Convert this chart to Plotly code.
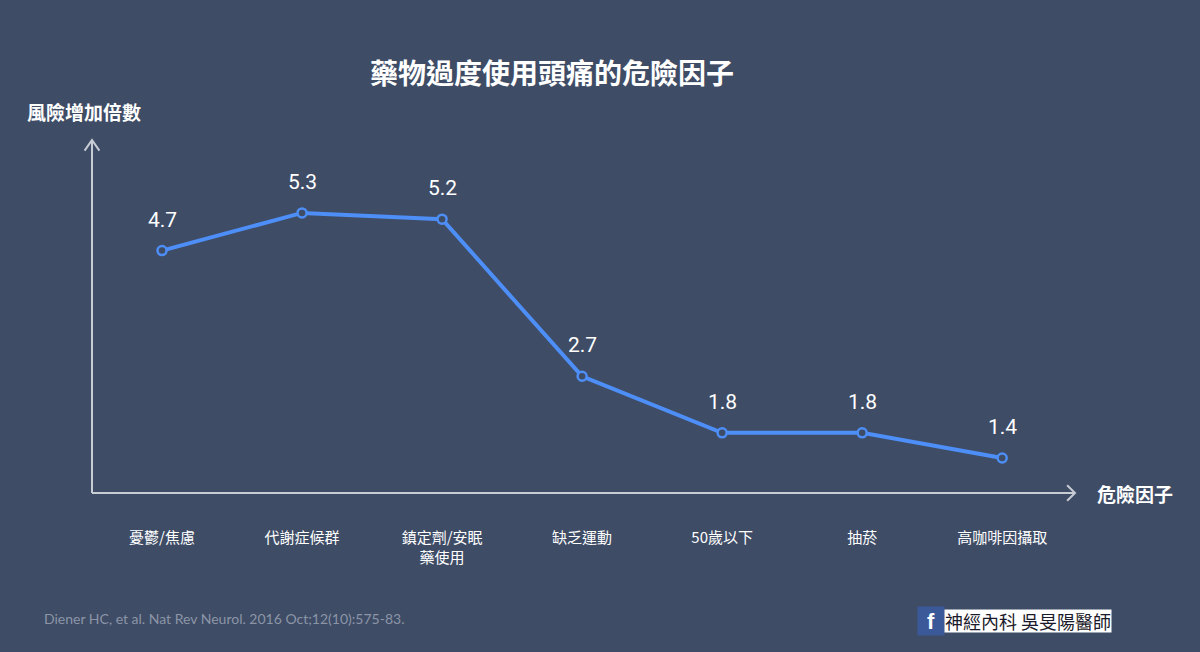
import plotly.graph_objects as go

categories = ['憂鬱/焦慮', '代謝症候群', '鎮定劑/安眠<br>藥使用', '缺乏運動', '50歲以下', '抽菸', '高咖啡因攝取']
risk_values = [4.7, 5.3, 5.2, 2.7, 1.8, 1.8, 1.4]

bg = '#3e4c66'
blue = '#4d8ef7'
font = 'Noto Sans CJK TC'

fig = go.Figure()
fig.add_trace(go.Scatter(x=list(range(len(categories))), y=risk_values,
                         mode='lines+markers',
                         line=dict(color=blue, width=4),
                         marker=dict(size=9, color=bg, line=dict(color=blue, width=2.5)),
                         hoverinfo='skip'))

# value labels above each point
for i, v in enumerate(risk_values):
    fig.add_annotation(x=i, y=v, text=f'{v}', showarrow=False, yshift=31,
                       font=dict(size=21, color='white', family='Roboto'))

fig.update_layout(
    width=1200, height=652,
    paper_bgcolor=bg, plot_bgcolor=bg,
    margin=dict(l=92, r=125, t=140, b=159),
    showlegend=False,
    font=dict(family=font, color='white'),
    xaxis=dict(range=[-0.5, 6.52], tickvals=list(range(len(categories))), ticktext=categories,
               showgrid=False, zeroline=False, showline=False, ticks='',
               tickfont=dict(size=15, color='white', family=font), ticklabelstandoff=34),
    yaxis=dict(range=[0.843, 6.46], showgrid=False, zeroline=False, showline=False,
               showticklabels=False),
)

axis_col = '#c8ccd4'
fig.add_shape(type='line', xref='paper', yref='paper', x0=0, y0=0, x1=1.0, y1=0,
              line=dict(color=axis_col, width=2))
fig.add_shape(type='line', xref='paper', yref='paper', x0=0, y0=0, x1=0, y1=1.0,
              line=dict(color=axis_col, width=2))
# arrow heads
fig.add_shape(type='path', xref='paper', yref='paper',
              path='M 0.992,0.022 L 1.0,0 L 0.992,-0.022', line=dict(color=axis_col, width=2))
fig.add_shape(type='path', xref='paper', yref='paper',
              path='M -0.0075,0.97 L 0,1.0 L 0.0075,0.97', line=dict(color=axis_col, width=2))


def px_x(px):
    return (px - 92) / 983


def px_y(py):
    return (493 - py) / 353


def note(text, x, y, size, color='white', family=font, xanchor='center', **kw):
    fig.add_annotation(text=text, xref='paper', yref='paper', x=px_x(x), y=px_y(y),
                       xanchor=xanchor, yanchor='middle', showarrow=False,
                       font=dict(size=size, color=color, family=family), **kw)


note('<b>藥物過度使用頭痛的危險因子</b>', 552, 72, 28)
note('<b>風險增加倍數</b>', 25, 112, 19, xanchor='left')
note('<b>危險因子</b>', 1095, 493, 19, xanchor='left')
note('Diener HC, et al. Nat Rev Neurol. 2016 Oct;12(10):575-83.', 42, 618, 14,
     color='#8c95a6', family='Lato', xanchor='left')
# page credit
note('<b>f</b>', 931, 621, 22, family='Arial', bgcolor='#3b5998', width=24, height=26)
note('神經內科 吳旻陽醫師', 944, 621, 18, color='#1a1a2a', xanchor='left',
     bgcolor='white', borderpad=0, height=22)

fig.write_html('out.html', config={'displayModeBar': False},
               post_script="document.body.style.margin='0';")
